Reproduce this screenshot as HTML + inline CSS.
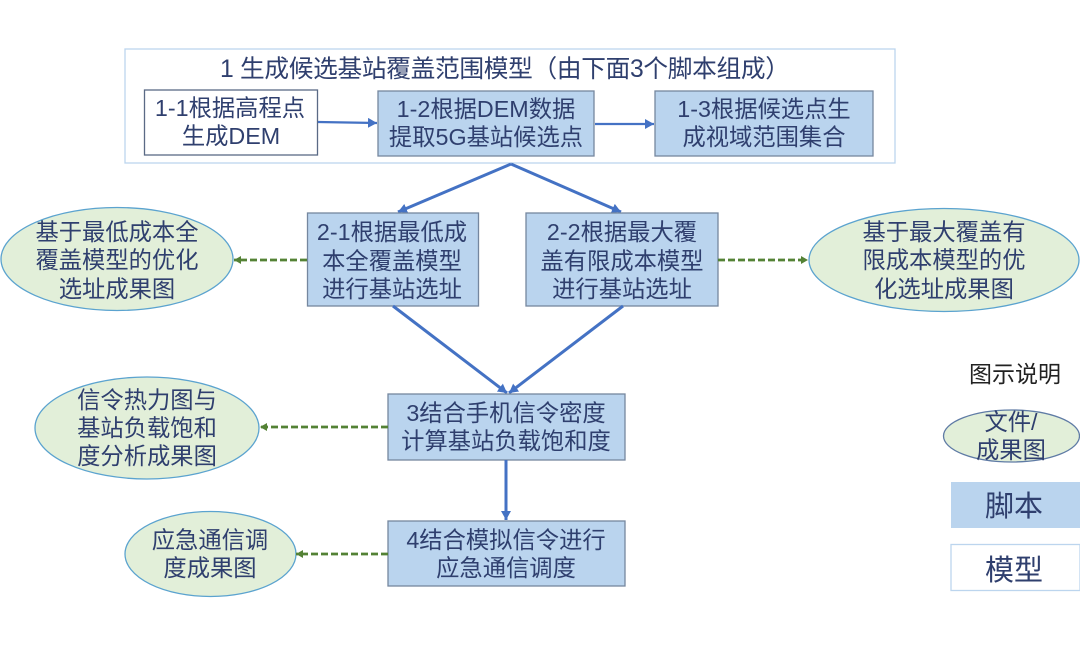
<!DOCTYPE html>
<html><head><meta charset="utf-8">
<style>
html,body{margin:0;padding:0;background:#fff;}
svg{display:block;}
text{font-family:"Liberation Sans","Noto Sans CJK SC",sans-serif;fill:#2f3f6e;text-anchor:middle;font-size:23.3px;}
.b{fill:#bad4ee;stroke:#75879f;stroke-width:1.3;}
.w{fill:#fff;stroke:#5a6a85;stroke-width:1.3;}
.e{fill:#e2efd9;stroke:#5ba3cf;stroke-width:1.3;}
.a{stroke:#4472c4;stroke-width:3;fill:none;}
.d{stroke:#548235;stroke-width:2.8;stroke-dasharray:7 3;fill:none;}
</style></head><body>
<svg width="1080" height="658" viewBox="0 0 1080 658" xmlns="http://www.w3.org/2000/svg">
<defs>
<marker id="ab" markerUnits="userSpaceOnUse" markerWidth="11" markerHeight="11" refX="9" refY="5" orient="auto"><path d="M0,0L9,5L0,10z" fill="#4472c4"/></marker>
<marker id="ag" markerUnits="userSpaceOnUse" markerWidth="9" markerHeight="9" refX="7" refY="4" orient="auto"><path d="M0,0L7,4L0,8z" fill="#548235"/></marker>
</defs>
<rect x="125" y="49" width="770" height="114" fill="#fff" stroke="#bcd5ee" stroke-width="1.3"/>
<text x="505" y="77" textLength="570" lengthAdjust="spacing" style="font-size:24.7px">1 生成候选基站覆盖范围模型（由下面3个脚本组成）</text>
<rect class="w" x="144.500" y="90" width="173" height="65"/>
<text x="230" y="116">1-1根据高程点</text><text x="231" y="144">生成DEM</text>
<rect class="b" x="378" y="91" width="216" height="65"/>
<text x="486" y="117">1-2根据DEM数据</text><text x="486" y="145">提取5G基站候选点</text>
<rect class="b" x="655" y="91" width="218" height="65"/>
<text x="764" y="117">1-3根据候选点生</text><text x="764" y="145">成视域范围集合</text>
<path class="a" style="stroke-width:2.200" d="M318,122L377,123" marker-end="url(#ab)"/>
<path class="a" style="stroke-width:2.200" d="M595,124L654,124" marker-end="url(#ab)"/>
<path class="a" d="M511,164L398,212" marker-end="url(#ab)"/>
<path class="a" d="M511,164L621,212" marker-end="url(#ab)"/>
<rect class="b" x="307.500" y="213" width="171" height="93"/>
<text x="392" y="240">2-1根据最低成</text><text x="392" y="269">本全覆盖模型</text><text x="392" y="297">进行基站选址</text>
<rect class="b" x="526" y="213" width="192" height="93"/>
<text x="622" y="240">2-2根据最大覆</text><text x="622" y="269">盖有限成本模型</text><text x="622" y="297">进行基站选址</text>
<ellipse class="e" cx="117" cy="259" rx="116" ry="51.500"/>
<text x="117" y="240">基于最低成本全</text><text x="117" y="268">覆盖模型的优化</text><text x="117" y="297">选址成果图</text>
<ellipse class="e" cx="944" cy="260" rx="135" ry="51.500"/>
<text x="944" y="240">基于最大覆盖有</text><text x="944" y="268">限成本模型的优</text><text x="944" y="297">化选址成果图</text>
<path class="d" d="M307,260L234,260" marker-end="url(#ag)"/>
<path class="d" d="M718,260L808,260" marker-end="url(#ag)"/>
<path class="a" d="M393,306L507,393" marker-end="url(#ab)"/>
<path class="a" d="M623,306L509,393" marker-end="url(#ab)"/>
<rect class="b" x="388" y="394" width="237" height="66"/>
<text x="506" y="421">3结合手机信令密度</text><text x="506" y="449">计算基站负载饱和度</text>
<ellipse class="e" cx="147" cy="428" rx="112" ry="51"/>
<text x="147" y="408">信令热力图与</text><text x="147" y="436">基站负载饱和</text><text x="147" y="464">度分析成果图</text>
<path class="d" d="M388,427L260,427" marker-end="url(#ag)"/>
<path class="a" d="M506,460L506,520" marker-end="url(#ab)"/>
<rect class="b" x="388" y="521" width="237" height="65"/>
<text x="506" y="548">4结合模拟信令进行</text><text x="506" y="576">应急通信调度</text>
<ellipse class="e" cx="210.500" cy="554" rx="85.500" ry="42.500"/>
<text x="210" y="548">应急通信调</text><text x="210" y="576">度成果图</text>
<path class="d" d="M388,554L296,554" marker-end="url(#ag)"/>
<text x="1015" y="382" style="fill:#222;font-size:23px">图示说明</text>
<ellipse cx="1011.500" cy="436" rx="68" ry="26" fill="#e2efd9" stroke="#5f7ba5" stroke-width="1.300"/>
<text x="1011" y="430">文件/</text><text x="1011" y="458">成果图</text>
<rect x="951" y="482" width="129" height="46" fill="#bad4ee"/>
<text x="1014" y="516" style="font-size:29px">脚本</text>
<rect x="951" y="544.500" width="129" height="46" fill="#fff" stroke="#bcd5ee" stroke-width="1.300"/>
<text x="1014" y="580" style="font-size:29px">模型</text>
</svg>
</body></html>
